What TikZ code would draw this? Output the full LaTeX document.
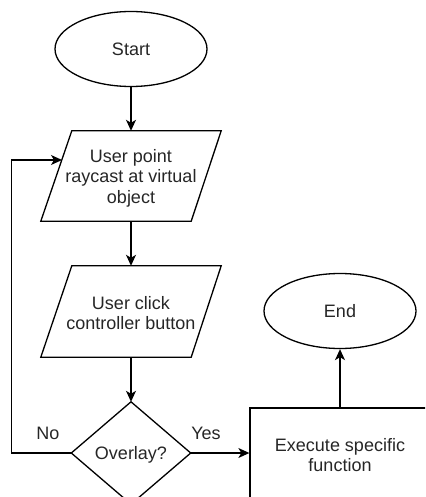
\documentclass[tikz,border=0pt]{standalone}
\usepackage{fontspec}
\setmainfont{Liberation Sans}
\usetikzlibrary{shapes.geometric,arrows.meta,calc}
\begin{document}
\begin{tikzpicture}[x=1pt,y=-1pt,
  every node/.style={font=\fontsize{18}{20.5}\selectfont, text=black!85},
  line/.style={line width=1.3pt, draw=black},
  arr/.style={line, -{Stealth[length=11pt,width=10pt,inset=3pt]}},
  term/.style={ellipse, line, minimum width=152pt, minimum height=75pt, inner sep=0pt, align=center},
  txt/.style={align=center, inner sep=0pt},
  lbl/.style={inner sep=0pt}]
\useasboundingbox (0,0) rectangle (425,497);
\clip (0,0) rectangle (425,497);

% nodes
\node[term] (s) at (131,49) {Start};
\node[txt, minimum width=180pt, minimum height=90pt] (p1) at (131,176) {};
\node[txt] (p1t) at (131,178) {User point\\raycast at virtual\\object};
\node[txt, minimum width=180pt, minimum height=91pt] (p2) at (131,311.5) {};
\node[txt] (p2t) at (131,313) {User click\\controller button};
\node[txt, minimum width=119pt, minimum height=102pt] (d) at (131,453) {};
\node[txt] (dt) at (131,455) {Overlay?};
\node[line, minimum width=180pt, minimum height=90pt] (r) at (340,453) {};
\node[txt] (rt) at (340,455) {Execute specific\\function};
\node[term] (e) at (340,311) {End};
\node[lbl] (no) at (48,433) {No};
\node[lbl] (yes) at (206,433) {Yes};

% shapes drawn around the text nodes
\draw[line] ($(p1.north west)+(31,0)$) -- (p1.north east) -- ($(p1.south east)+(-30,0)$) -- (p1.south west) -- cycle;
\draw[line] ($(p2.north west)+(31,0)$) -- (p2.north east) -- ($(p2.south east)+(-30,0)$) -- (p2.south west) -- cycle;
\draw[line] (d.north) -- (d.east) -- (d.south) -- (d.west) -- cycle;

% connectors
\coordinate (lp) at (62,160);
\draw[arr] (s.south) -- (p1.north);
\draw[arr] (p1.south) -- (p2.north);
\draw[arr] (p2.south) -- (d.north);
\draw[arr] (d.east) -- (r.west);
\draw[arr] (r.north) -- (e.south);
\draw[arr] (d.west) -- ++(-59.5,0) |- (lp);
\end{tikzpicture}
\end{document}
